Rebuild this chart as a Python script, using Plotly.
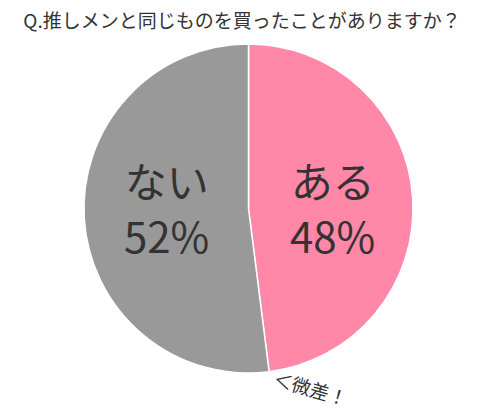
import plotly.graph_objects as go

# data
labels = ["ある", "ない"]
values = [48, 52]
colors = ["#ff87a8", "#999999"]
title_text = "Q.推しメンと同じものを買ったことがありますか？"
note_text = "＜微差！"

W, H = 500, 411
FONT = "Noto Sans CJK JP"

fig = go.Figure()
fig.add_trace(go.Pie(
    labels=labels,
    values=values,
    sort=False,
    direction="clockwise",
    rotation=0,
    marker=dict(colors=colors, line=dict(color="white", width=1.5)),
    textinfo="none",
    hoverinfo="label+percent",
    domain=dict(x=[83 / W, 414 / W], y=[1 - 373 / H, 1 - 44 / H]),
    showlegend=False,
))

# labels inside slices (pixel centre of the two-line text block)
label_pos = {"ある": (332, 207), "ない": (166, 207)}
for lab, val in zip(labels, values):
    px, py = label_pos[lab]
    fig.add_annotation(x=px / W, y=1 - py / H, xref="paper", yref="paper",
                       xanchor="center", yanchor="middle",
                       text=f"{lab}<br>{val}%", showarrow=False,
                       font=dict(size=42, color="#333333", family=FONT))

fig.add_annotation(x=311 / W, y=1 - 387 / H, xref="paper", yref="paper",
                   xanchor="center", yanchor="middle",
                   text=note_text, showarrow=False, textangle=16,
                   font=dict(size=19, color="#333333", family=FONT))

fig.update_layout(
    width=W, height=H,
    margin=dict(l=0, r=0, t=0, b=0),
    paper_bgcolor="white",
    plot_bgcolor="white",
    title=dict(text=title_text, x=242 / W, xanchor="center",
               y=1 - 21 / H, yanchor="middle",
               font=dict(size=19, color="#333333", family=FONT)),
)

fig.write_html("out.html", config={"displayModeBar": False},
               post_script="document.body.style.margin='0';")
